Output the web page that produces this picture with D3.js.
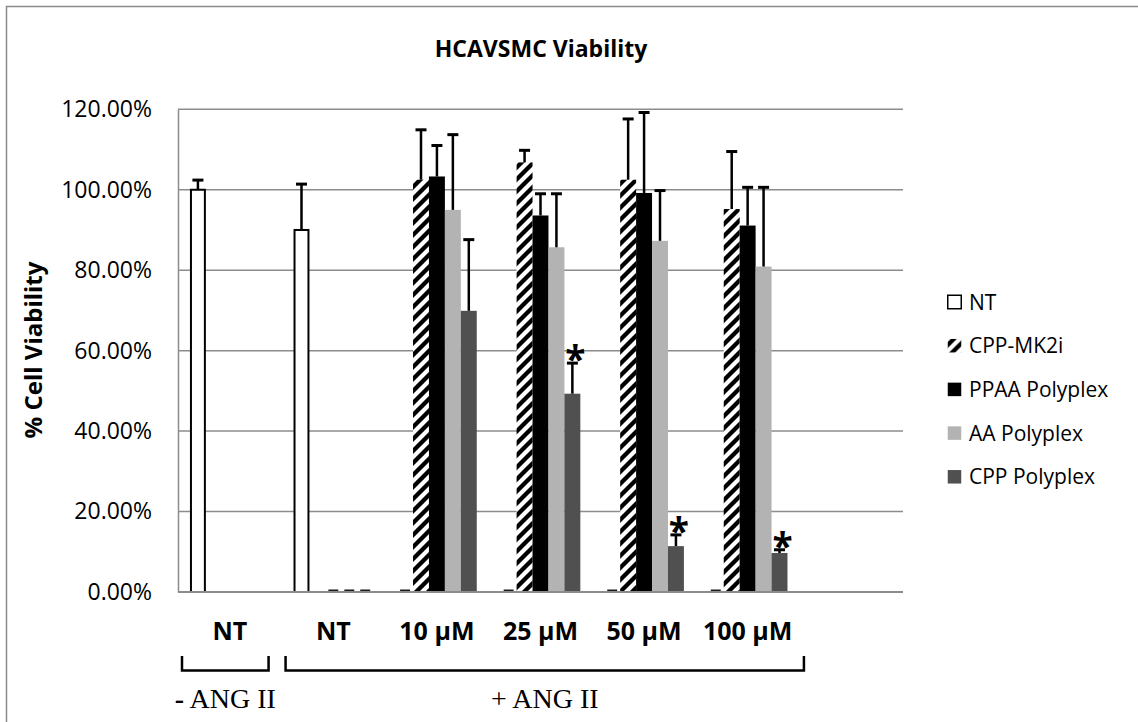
<!DOCTYPE html>
<html>
<head>
<meta charset="utf-8">
<script src="https://cdn.jsdelivr.net/npm/d3@7"></script>
<style>
  body { margin: 0; background: #fff; }
  svg { display: block; }
</style>
</head>
<body>
<script>
// categories along the x axis (last one is an empty slot in the original sheet)
const categories = ["NT", "NT", "10 µM", "25 µM", "50 µM", "100 µM", ""];
const seriesNames = ["NT", "CPP-MK2i", "PPAA Polyplex", "AA Polyplex", "CPP Polyplex"];

// mean viability (fraction), null = no bar
const ntValues    = [1.000, 0.900, 0, 0, 0, 0, null];
const mk2iValues  = [null, null, 1.025, 1.068, 1.025, 0.952, null];
const ppaaValues  = [null, 0, 1.033, 0.936, 0.992, 0.911, null];
const aaValues    = [null, 0, 0.950, 0.857, 0.873, 0.809, null];
const cppValues   = [null, 0, 0.699, 0.493, 0.114, 0.097, null];

// + error bars
const ntErr   = [0.024, 0.114, null, null, null, null, null];
const mk2iErr = [null, null, 0.124, 0.030, 0.151, 0.143, null];
const ppaaErr = [null, null, 0.077, 0.054, 0.200, 0.095, null];
const aaErr   = [null, null, 0.187, 0.133, 0.125, 0.197, null];
const cppErr  = [null, null, 0.177, 0.076, 0.028, 0.008, null];

// significance marks on the CPP polyplex series
const cppSig = [null, null, null, "*", "*", "*", null];

const yTicks = [0, 0.2, 0.4, 0.6, 0.8, 1.0, 1.2];

const groups = [
  { from: 0, to: 0, sign: "-", label: " ANG II" },
  { from: 1, to: 5, sign: "+", label: " ANG II" }
];

const series = [
  { name: seriesNames[0], values: ntValues,   err: ntErr,   fill: "#ffffff", stroke: "#000" },
  { name: seriesNames[1], values: mk2iValues, err: mk2iErr, fill: "url(#hatch)", stroke: null },
  { name: seriesNames[2], values: ppaaValues, err: ppaaErr, fill: "#000000", stroke: null },
  { name: seriesNames[3], values: aaValues,   err: aaErr,   fill: "#b3b3b3", stroke: null },
  { name: seriesNames[4], values: cppValues,  err: cppErr,  fill: "#505050", stroke: null, sig: cppSig }
];

const W = 1138, H = 722;
const plot = { left: 178, right: 903, top: 109.3, bottom: 592 };
const sans = "'Open Sans', 'Noto Sans', sans-serif";
const gridColor = "#8c8c8c";

const svg = d3.select("body").append("svg")
  .attr("width", W)
  .attr("height", H);

// striped fill for CPP-MK2i
const pat = svg.append("defs").append("pattern")
  .attr("id", "hatch")
  .attr("patternUnits", "userSpaceOnUse")
  .attr("width", 12)
  .attr("height", 12);
pat.append("rect").attr("width", 12).attr("height", 12).attr("fill", "#fff");
pat.append("path")
  .attr("d", "M-3,3 L3,-3 M0,12 L12,0 M9,15 L15,9")
  .attr("stroke", "#000")
  .attr("stroke-width", 4.3);

// outer frame (only the left and top edges fall inside the picture)
svg.append("rect")
  .attr("x", 6.5).attr("y", 6.5)
  .attr("width", W + 20).attr("height", H + 20)
  .attr("fill", "none")
  .attr("stroke", "#8a8a8a")
  .attr("stroke-width", 1.5);

const x0 = d3.scaleBand()
  .domain(d3.range(categories.length))
  .range([plot.left, plot.right]);

// Excel style: gap width 150% of one bar
const x1 = d3.scaleBand()
  .domain(d3.range(series.length))
  .range([0, x0.bandwidth()])
  .paddingOuter(0.75);

const y = d3.scaleLinear()
  .domain([0, 1.2])
  .range([plot.bottom, plot.top]);

// title
svg.append("text")
  .attr("x", 541).attr("y", 57)
  .attr("text-anchor", "middle")
  .style("font-family", sans)
  .style("font-weight", "bold")
  .style("font-size", "23px")
  .text("HCAVSMC Viability");

// grid lines
svg.append("g").selectAll("line")
  .data(yTicks.filter(d => d > 0))
  .join("line")
  .attr("x1", plot.left).attr("x2", plot.right)
  .attr("y1", d => y(d)).attr("y2", d => y(d))
  .attr("stroke", gridColor)
  .attr("stroke-width", 1.5);

// y axis
const yAxis = svg.append("g")
  .attr("transform", `translate(${plot.left},0)`)
  .call(d3.axisLeft(y).tickValues(yTicks).tickFormat(d3.format(".2%")).tickSize(0).tickPadding(26));
yAxis.select(".domain").attr("stroke", gridColor).attr("stroke-width", 1.5);
yAxis.selectAll("text")
  .style("font-family", sans)
  .style("font-size", "23px")
  .attr("fill", "#000");

svg.append("text")
  .attr("transform", `translate(42,350) rotate(-90)`)
  .attr("text-anchor", "middle")
  .style("font-family", sans)
  .style("font-weight", "bold")
  .style("font-size", "24px")
  .text("% Cell Viability");

// bars
const barG = svg.append("g");
series.forEach((s, si) => {
  s.values.forEach((v, ci) => {
    if (v == null) return;
    const bx = x0(ci) + x1(si);
    const bw = x1.bandwidth();
    if (v === 0) {
      if (s.fill.startsWith("url")) return;
      barG.append("rect")
        .attr("x", bx + 3).attr("y", y(0) - 2.5)
        .attr("width", bw - 6).attr("height", 2)
        .attr("fill", "#1a1a1a");
      return;
    }
    if (s.stroke) {
      barG.append("rect")
        .attr("x", bx + 1).attr("y", y(v))
        .attr("width", bw - 2).attr("height", y(0) - y(v))
        .attr("fill", s.fill)
        .attr("stroke", s.stroke)
        .attr("stroke-width", 2);
    } else {
      barG.append("rect")
        .attr("x", bx).attr("y", y(v))
        .attr("width", bw).attr("height", y(0) - y(v))
        .attr("fill", s.fill);
    }
  });
});

// x axis line on top of bar bottoms
svg.append("line")
  .attr("x1", plot.left).attr("x2", plot.right)
  .attr("y1", y(0)).attr("y2", y(0))
  .attr("stroke", gridColor)
  .attr("stroke-width", 2);

// error bars (plus direction only)
const errG = svg.append("g").attr("stroke", "#000");
series.forEach((s, si) => {
  s.err.forEach((e, ci) => {
    const v = s.values[ci];
    if (e == null || v == null) return;
    const cx = x0(ci) + x1(si) + x1.bandwidth() / 2;
    errG.append("line")
      .attr("x1", cx).attr("x2", cx)
      .attr("y1", y(v)).attr("y2", y(v + e))
      .attr("stroke-width", 2.5);
    errG.append("line")
      .attr("x1", cx - 5.5).attr("x2", cx + 5.5)
      .attr("y1", y(v + e)).attr("y2", y(v + e))
      .attr("stroke-width", 3);
  });
  if (s.sig) {
    s.sig.forEach((mark, ci) => {
      if (!mark) return;
      const cx = x0(ci) + x1(si) + x1.bandwidth() / 2;
      svg.append("text")
        .attr("x", cx + 3)
        .attr("y", y(s.values[ci] + (s.err[ci] || 0)) + 10)
        .attr("text-anchor", "middle")
        .style("font-family", sans)
        .style("font-weight", "bold")
        .style("font-size", "37px")
        .text(mark);
    });
  }
});

// category labels
svg.append("g").selectAll("text")
  .data(categories)
  .join("text")
  .attr("x", (d, i) => x0(i) + x0.bandwidth() / 2)
  .attr("y", 640)
  .attr("text-anchor", "middle")
  .style("font-family", sans)
  .style("font-weight", "bold")
  .style("font-size", "25px")
  .text(d => d);

// treatment brackets
const bracketPad = [[4, 13], [4, -4.5]];
groups.forEach((g, gi) => {
  const xa = x0(g.from) + bracketPad[gi][0];
  const xb = x0(g.to) + x0.bandwidth() - bracketPad[gi][1];
  svg.append("path")
    .attr("d", `M${xa},656 V670.5 H${xb} V656`)
    .attr("fill", "none")
    .attr("stroke", "#000")
    .attr("stroke-width", 2.5);
  const t = svg.append("text")
    .attr("x", (xa + xb) / 2)
    .attr("y", 708)
    .attr("text-anchor", "middle")
    .style("font-family", "'Liberation Serif', 'Times New Roman', serif")
    .style("font-size", "28px");
  t.append("tspan")
    .style("font-weight", g.sign === "-" ? "bold" : "normal")
    .text(g.sign);
  t.append("tspan").text(g.label);
});

// legend
const legend = svg.append("g").attr("transform", "translate(947,302)");
const rows = legend.selectAll("g")
  .data(series)
  .join("g")
  .attr("transform", (d, i) => `translate(0,${i * 43.7})`);
rows.append("rect")
  .attr("x", 0.75).attr("y", -6.75)
  .attr("width", 13.5).attr("height", 13.5)
  .attr("fill", d => d.fill)
  .attr("stroke", d => d.stroke ? "#000" : "none")
  .attr("stroke-width", 1.5);
rows.append("text")
  .attr("x", 22)
  .attr("y", 7.5)
  .style("font-family", sans)
  .style("font-size", "21px")
  .text(d => d.name);
</script>
</body>
</html>
